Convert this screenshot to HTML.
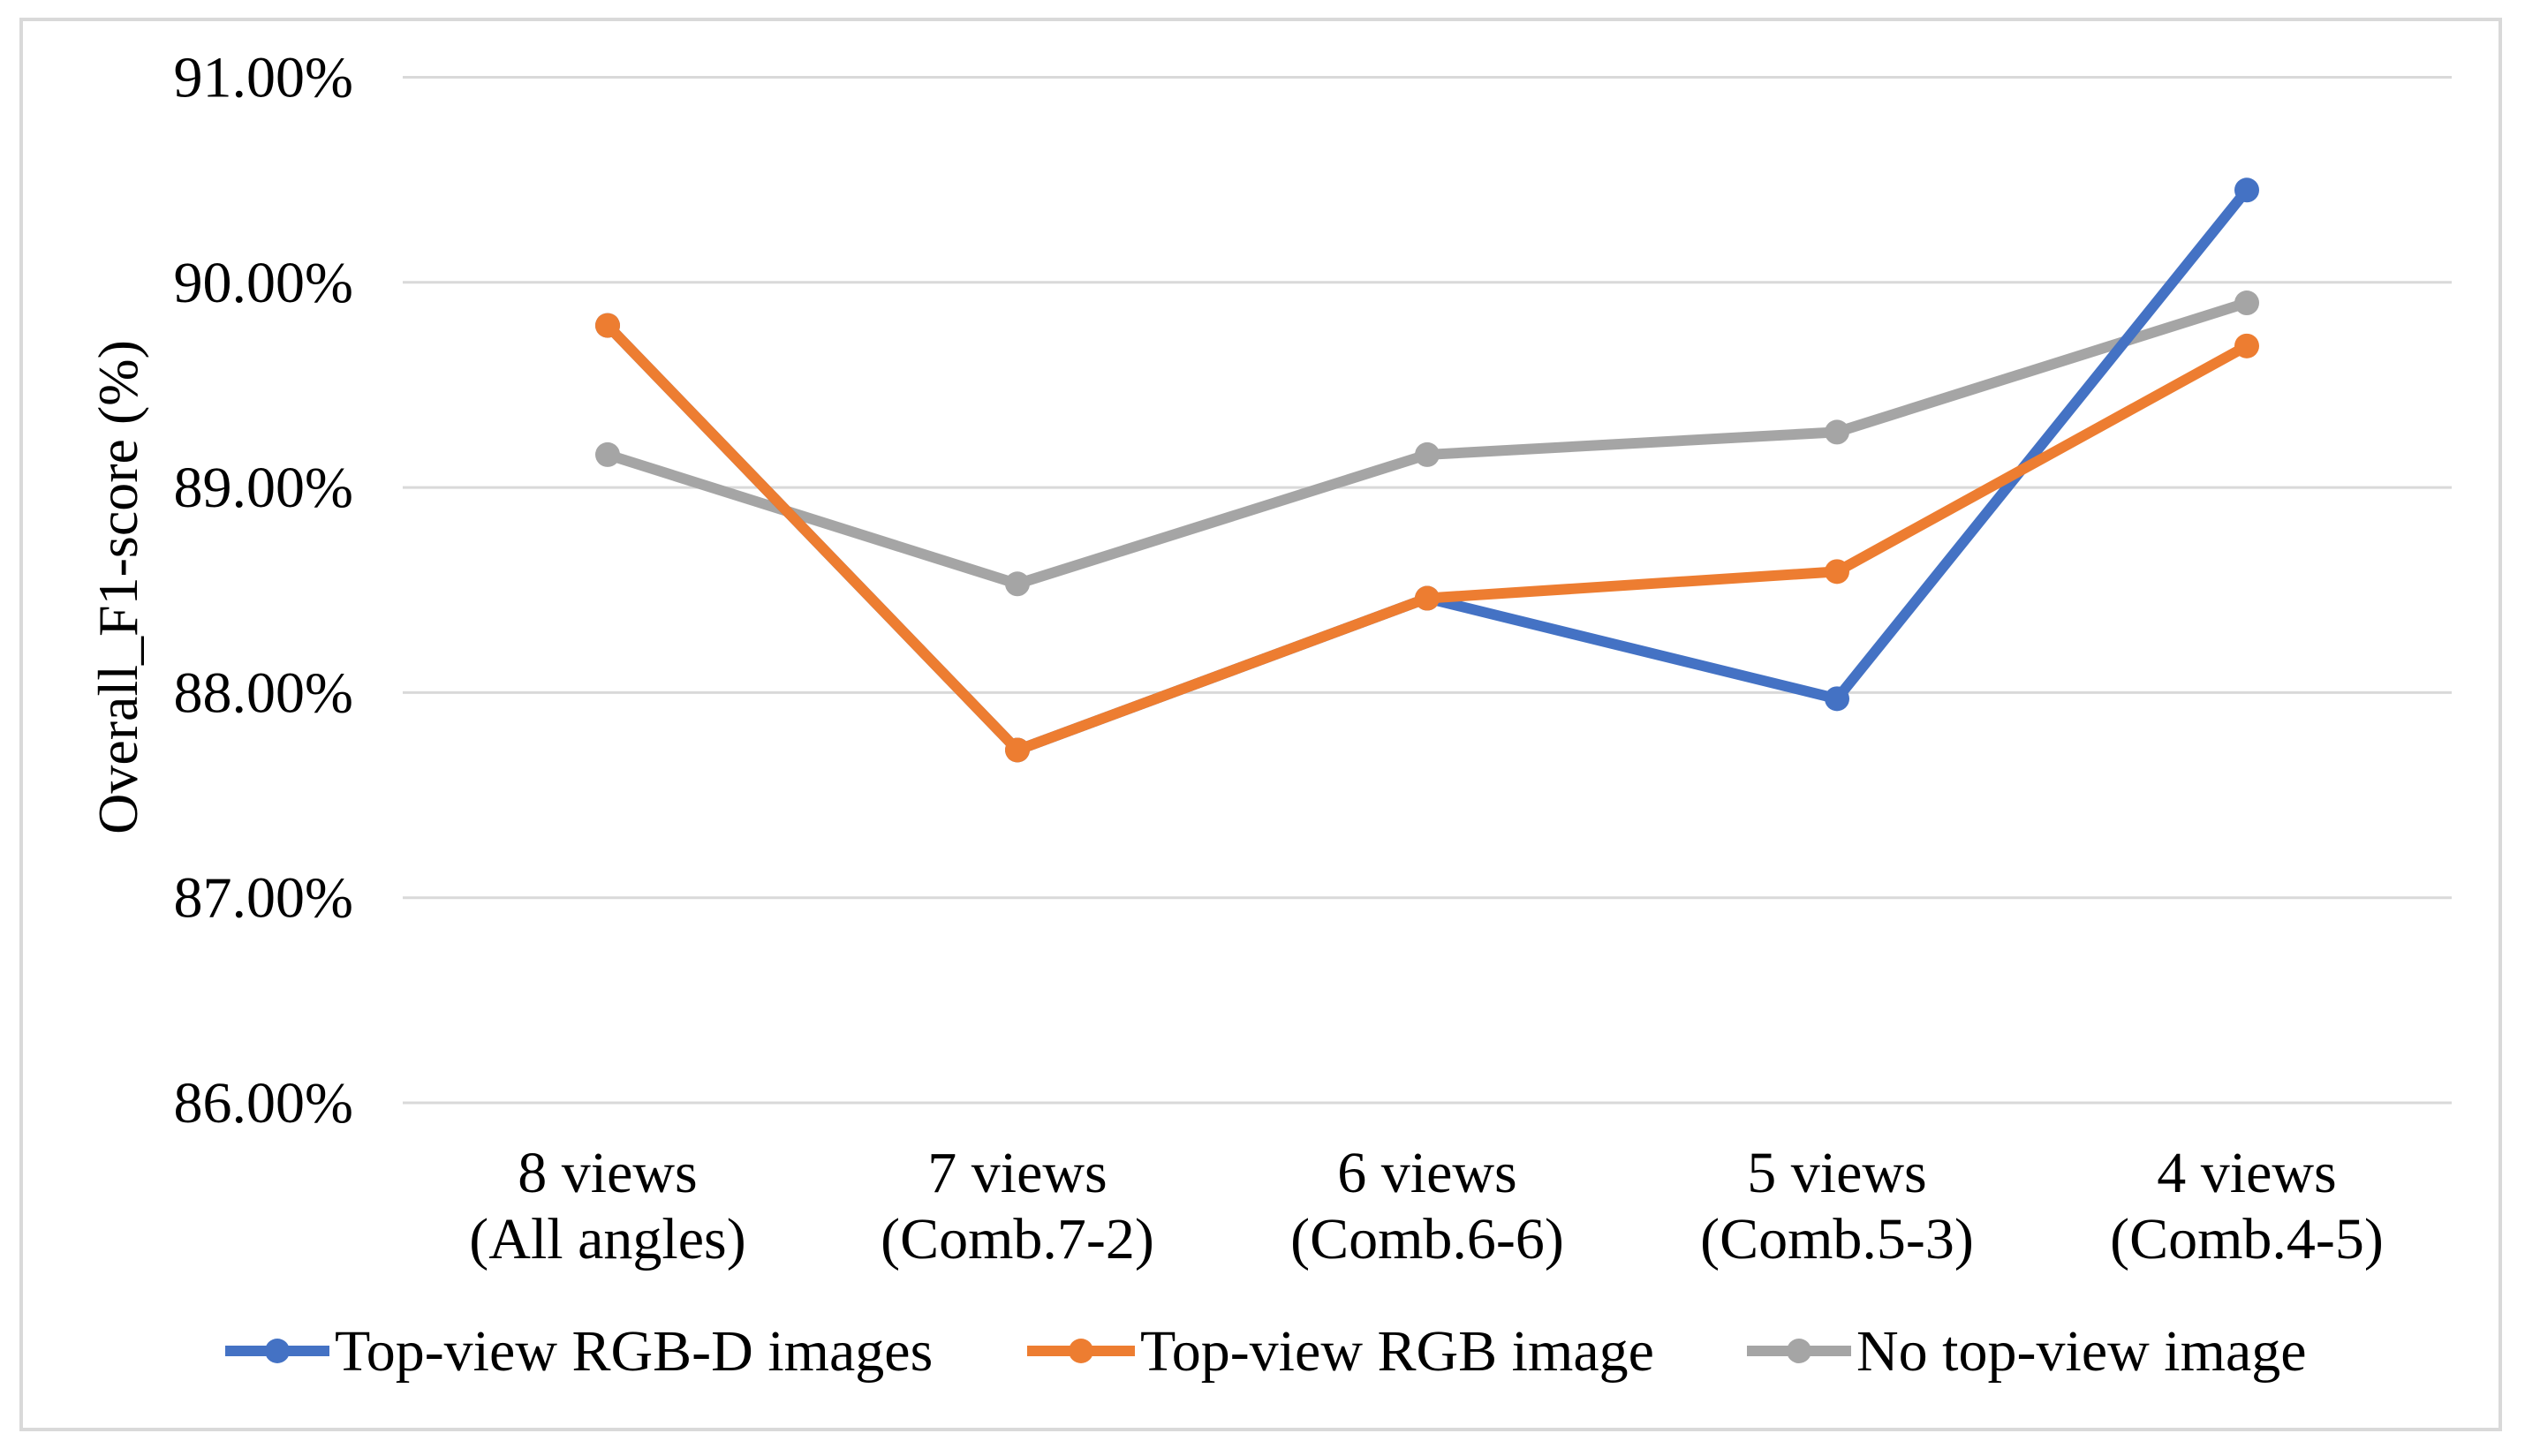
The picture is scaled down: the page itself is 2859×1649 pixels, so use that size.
<!DOCTYPE html>
<html><head><meta charset="utf-8"><style>
html,body{margin:0;padding:0;background:#fff;}
svg{display:block;}
text{font-family:"Liberation Serif","Times New Roman",serif;}
</style></head><body>
<svg id="chart" width="2859" height="1649" viewBox="0 0 2859 1649" font-family="Liberation Serif, serif">
<rect x="24" y="22" width="2807" height="1597" fill="#fff" stroke="#d9d9d9" stroke-width="4"/>
<g id="grid"></g><g id="ylab"></g><g id="xlab"></g><g id="series"></g>
<text transform="translate(155,665) rotate(-90)" text-anchor="middle" font-size="64" fill="#000" font-family="Liberation Serif, serif">Overall_F1-score (%)</text>
<g id="legend"></g>
</svg>
<script>
const categories1 = ["8 views","7 views","6 views","5 views","4 views"];
const categories2 = ["(All angles)","(Comb.7-2)","(Comb.6-6)","(Comb.5-3)","(Comb.4-5)"];
const seriesNames = ["Top-view RGB-D images","Top-view RGB image","No top-view image"];
const rgbdValues = [89.79, 87.72, 88.46, 87.97, 90.45];
const rgbValues = [89.79, 87.72, 88.46, 88.59, 89.69];
const noTopValues = [89.16, 88.53, 89.16, 89.27, 89.90];
const yTicks = [86, 87, 88, 89, 90, 91];
const yTickLabels = ["86.00%","87.00%","88.00%","89.00%","90.00%","91.00%"];

const NS="http://www.w3.org/2000/svg";
const FF="Liberation Serif, serif";
const plotL=456, plotR=2776, yTop=87.5, yBot=1249, yMin=86, yMax=91;
const y=v=>yBot-(v-yMin)/(yMax-yMin)*(yBot-yTop);
const x=i=>plotL+(i+0.5)*(plotR-plotL)/categories1.length;
function mk(tag,attrs,parent){const e=document.createElementNS(NS,tag);for(const k in attrs)e.setAttribute(k,attrs[k]);parent.appendChild(e);return e;}
const grid=document.getElementById('grid'), ylab=document.getElementById('ylab'), xlab=document.getElementById('xlab'), ser=document.getElementById('series'), leg=document.getElementById('legend');
yTicks.forEach((t,i)=>{
  const l=mk('line',{x1:plotL,x2:plotR,y1:y(t),y2:y(t),stroke:'#d9d9d9','stroke-width':3},grid);
  
  
  const tx=mk('text',{x:400,y:y(t)+22,'text-anchor':'end','font-size':66,fill:'#000','font-family':FF},ylab);
  tx.textContent=yTickLabels[i];
  
  
});
categories1.forEach((c,i)=>{
  const t=mk('text',{x:x(i),y:1350,'text-anchor':'middle','font-size':66,fill:'#000','font-family':FF},xlab);
  t.textContent=c;
  
  
  const t2=mk('text',{x:x(i),y:1425,'text-anchor':'middle','font-size':66,fill:'#000','font-family':FF},xlab);
  t2.textContent=categories2[i];
  
  
});
const colors=['#4472c4','#ed7d31','#a5a5a5'];
const allData=[rgbdValues,rgbValues,noTopValues];
[2,0,1].forEach(s=>{
  const d=allData[s];
  const g=mk('g',{},ser);
  
  
  const p=mk('polyline',{points:d.map((v,i)=>x(i)+','+y(v)).join(' '),fill:'none',stroke:colors[s],'stroke-width':12,'stroke-linejoin':'round','stroke-linecap':'round'},g);
  
  
  d.forEach((v,i)=>{
    const c=mk('circle',{cx:x(i),cy:y(v),r:14,fill:colors[s]},g);
    
    
  });
});
const legX=[[255,379],[1163,1291],[1978,2102]];
seriesNames.forEach((n,s)=>{
  const g=mk('g',{},leg);
  
  
  mk('line',{x1:legX[s][0],x2:legX[s][1]-6,y1:1530,y2:1530,stroke:colors[s],'stroke-width':12},g);
  mk('circle',{cx:(legX[s][0]+legX[s][1]-6)/2,cy:1530,r:14,fill:colors[s]},g);
  const t=mk('text',{x:legX[s][1],y:1552,'font-size':66,fill:'#000','font-family':FF},g);
  t.textContent=n;
});
</script>
</body></html>
